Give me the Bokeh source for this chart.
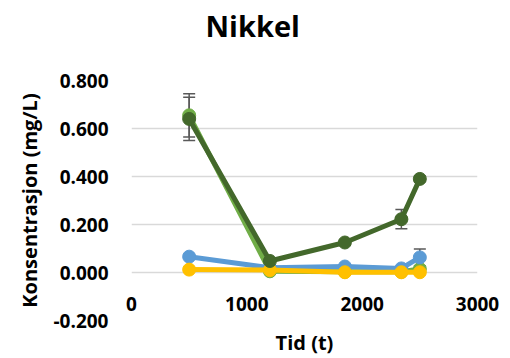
from bokeh.plotting import figure
from bokeh.models import Range1d, FixedTicker, NumeralTickFormatter, Whisker, ColumnDataSource, TeeHead, Title
from bokeh.embed import file_html
from bokeh.resources import INLINE

# Data
time_h = [500, 1200, 1850, 2340, 2500]
green_light = [0.655, 0.005, 0.003, 0.003, 0.015]
green_light_err = [0.09, 0.005, 0.003, 0.003, 0.005]
blue = [0.066, 0.02, 0.025, 0.017, 0.063]
blue_err = [0.005, 0.005, 0.005, 0.005, 0.035]
yellow = [0.012, 0.01, 0.001, 0.001, 0.001]
yellow_err = [0.002, 0.002, 0.001, 0.001, 0.001]
green_dark = [0.64, 0.048, 0.125, 0.222, 0.39]
green_dark_err = [0.09, 0.005, 0.01, 0.04, 0.012]

x_ticks = [0, 1000, 2000, 3000]
y_ticks = [-0.2, 0.0, 0.2, 0.4, 0.6, 0.8]
x_min, x_max = 0, 3000
y_min, y_max = -0.2, 0.8

FONT = "Open Sans"

p = figure(width=510, height=358, output_backend="svg", toolbar_location=None,
           x_range=Range1d(x_min, x_max), y_range=Range1d(y_min, y_max),
           min_border_left=131, min_border_right=33, min_border_top=80, min_border_bottom=37)
p.outline_line_color = None
p.background_fill_color = "white"
p.border_fill_color = "white"

p.title.text = "Nikkel"
p.title.text_font = FONT
p.title.text_font_size = "29px"
p.title.text_font_style = "bold"
p.title.text_color = "black"
p.title.align = "left"
p.title.offset = 74
p.title.standoff = 0

# blank spacer between the plot area and the title
p.add_layout(Title(text=" ", text_font_size="1px", standoff=33), "above")

# x axis: labels drawn just below the y=0 line, as in Excel (axis crossing at 0)
xax = p.below[0]
xax.ticker = FixedTicker(ticks=x_ticks)
xax.axis_line_color = None
xax.major_tick_line_color = None
xax.minor_tick_line_color = None
xax.major_tick_out = 0
xax.major_tick_in = 0
xax.major_label_standoff = -24
xax.major_label_text_font = FONT
xax.major_label_text_font_size = "19px"
xax.major_label_text_font_style = "bold"
xax.major_label_text_color = "black"
xax.axis_label = "Tid (t)"
xax.axis_label_text_font = FONT
xax.axis_label_text_font_size = "20px"
xax.axis_label_text_font_style = "bold"
xax.axis_label_text_color = "black"
xax.axis_label_standoff = 15
p.xgrid.visible = False

p.yaxis.ticker = FixedTicker(ticks=y_ticks)
p.yaxis.formatter = NumeralTickFormatter(format="0.000")
p.yaxis.axis_line_color = None
p.yaxis.major_tick_line_color = None
p.yaxis.minor_tick_line_color = None
p.yaxis.major_tick_out = 0
p.yaxis.major_tick_in = 0
p.yaxis.major_label_standoff = 23
p.yaxis.major_label_text_font = FONT
p.yaxis.major_label_text_font_size = "19px"
p.yaxis.major_label_text_font_style = "bold"
p.yaxis.major_label_text_color = "black"
p.yaxis.axis_label = "Konsentrasjon (mg/L)"
p.yaxis.axis_label_text_font = FONT
p.yaxis.axis_label_text_font_size = "20px"
p.yaxis.axis_label_text_font_style = "bold"
p.yaxis.axis_label_text_color = "black"
p.yaxis.axis_label_standoff = 8
p.ygrid.grid_line_color = "#D9D9D9"
p.ygrid.grid_line_width = 1.5

series = [
    (green_light, green_light_err, "#70AD47"),
    (blue, blue_err, "#5B9BD5"),
    (yellow, yellow_err, "#FFC000"),
    (green_dark, green_dark_err, "#43682B"),
]
for vals, errs, col in series:
    src = ColumnDataSource(dict(x=time_h, y=vals,
                                lo=[v - e for v, e in zip(vals, errs)],
                                hi=[v + e for v, e in zip(vals, errs)]))
    p.line("x", "y", source=src, line_color=col, line_width=5)
    p.scatter("x", "y", source=src, size=13, fill_color=col, line_color=col)
    w = Whisker(base="x", lower="lo", upper="hi", source=src, line_color="#595959", line_width=1.5,
                upper_head=TeeHead(size=12, line_color="#595959", line_width=1.5),
                lower_head=TeeHead(size=12, line_color="#595959", line_width=1.5))
    p.add_layout(w)

open("out.html", "w").write(file_html(p, INLINE))
